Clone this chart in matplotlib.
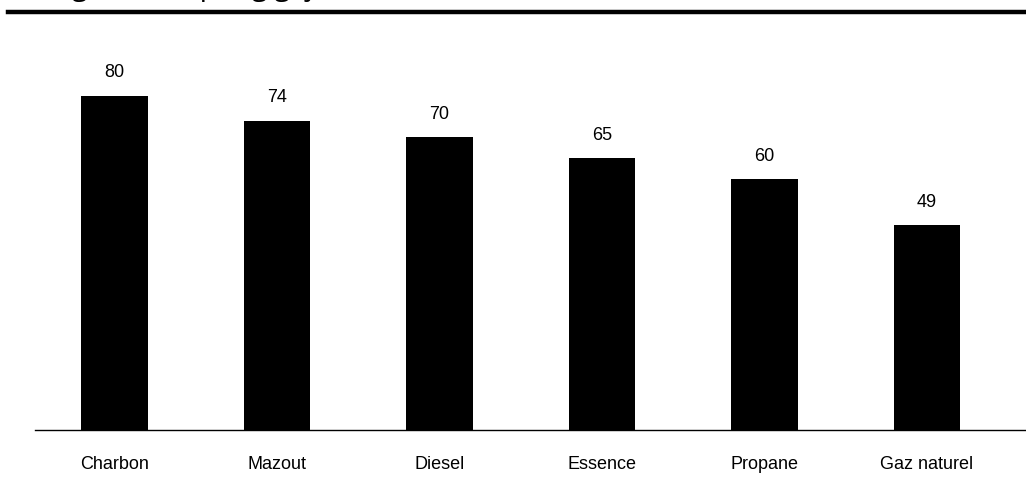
import matplotlib.pyplot as plt
from matplotlib.lines import Line2D

categories = ["Charbon", "Mazout", "Diesel", "Essence", "Propane", "Gaz naturel"]
values = [80, 74, 70, 65, 60, 49]
subtitle = "(en kg de CO2 par gigajoule)"

W, H = 1026, 490
fig = plt.figure(figsize=(W / 100, H / 100), dpi=100)
plt.rcParams['font.family'] = ['Liberation Sans', 'DejaVu Sans']

# axes: left 35px, right edge, baseline at y=430px
ax = fig.add_axes([35 / W, 60 / H, 991 / W, 370 / H])
x = list(range(len(categories)))
ax.bar(x, values, width=0.41, color='black')
ax.set_xlim(-0.49, 5.61)
ax.set_ylim(0, 370 / 4.18)

for i, v in zip(x, values):
    ax.text(i, v + 3.5, str(v), ha='center', va='bottom', fontsize=13)

ax.set_xticks(x)
ax.set_xticklabels(categories, fontsize=13)
ax.tick_params(axis='x', length=0, pad=19)
ax.set_yticks([])
for s in ['top', 'right', 'left']:
    ax.spines[s].set_visible(False)
ax.spines['bottom'].set_linewidth(1.0)

# clipped subtitle + thick rule on top
fig.text(8 / W, 1 + 5 / H, subtitle, ha='left', va='baseline',
         fontsize=20.5, family=['Open Sans', 'DejaVu Sans'])
fig.add_artist(Line2D([8 / W, 1], [1 - 12.5 / H, 1 - 12.5 / H],
                      transform=fig.transFigure, color='black', linewidth=3.2))

plt.savefig("out.png", dpi=100)
